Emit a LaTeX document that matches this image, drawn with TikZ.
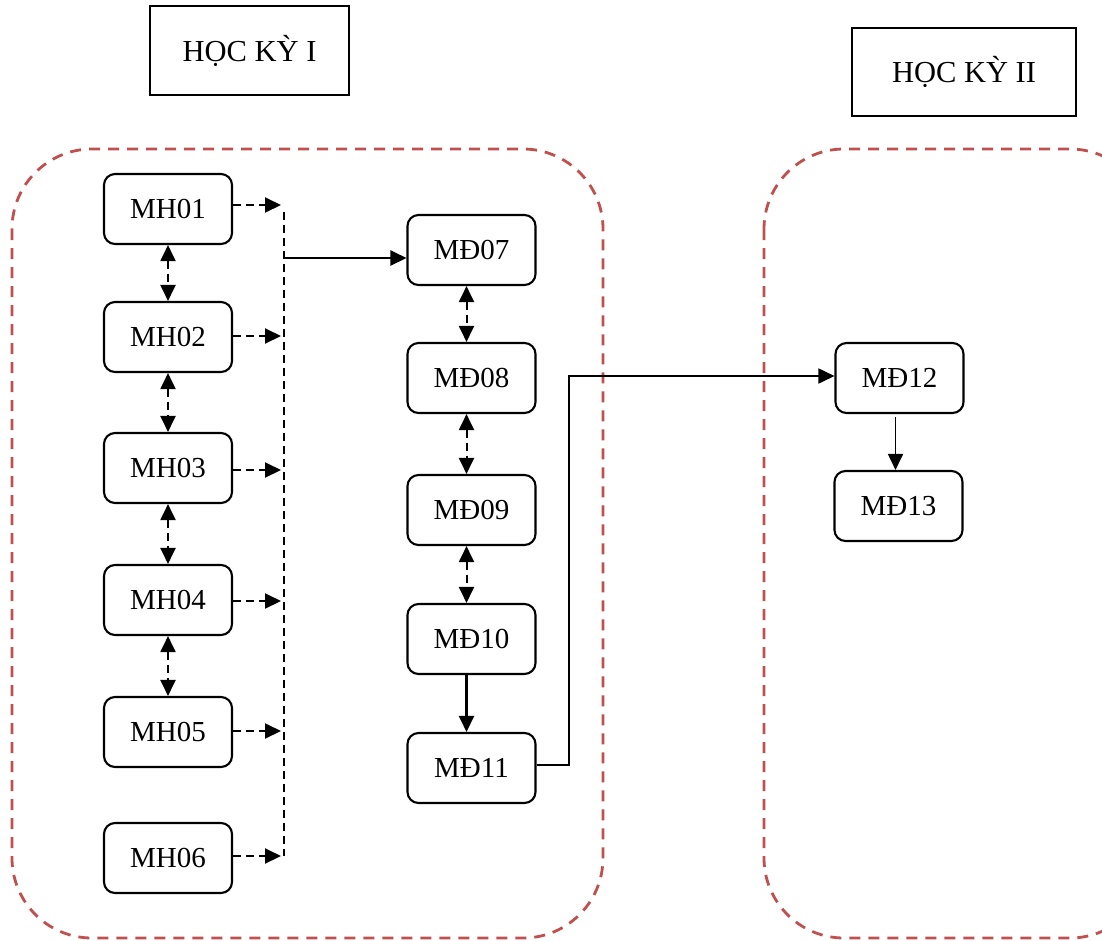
\documentclass[tikz,border=0pt]{standalone}
\usepackage{fontspec}
\setmainfont{Liberation Serif}
\usetikzlibrary{arrows.meta}
\definecolor{regred}{HTML}{C0504D}
\tikzset{
  box/.style={draw, line width=2.1pt, rounded corners=11pt, minimum width=128pt, minimum height=70pt, inner sep=0pt, font=\fontsize{29}{31}\selectfont},
  titlebox/.style={draw, line width=2pt, minimum width=199pt, minimum height=89pt, inner sep=0pt, font=\fontsize{30.5}{32}\selectfont},
  region/.style={draw=regred, line width=2.8pt, dash pattern=on 11pt off 8pt, rounded corners=80pt},
  tip/.style={-{Triangle[length=16pt,width=15pt]}},
  dtip/.style={{Triangle[length=16pt,width=15pt]}-{Triangle[length=16pt,width=15pt]}},
  dline/.style={line width=2pt, dash pattern=on 8pt off 5pt},
  sline/.style={line width=2.3pt},
  thinline/.style={line width=1.8pt},
}
\begin{document}
\begin{tikzpicture}[x=1pt,y=-1pt]
\useasboundingbox (0,0) rectangle (1102,940);
\clip (0,0) rectangle (1102,940);
% regions
\draw[region] (12,149) rectangle (603,938);
\draw[region] (764,149) rectangle (1150,938);
% titles
\node[titlebox] (t1) at (249.5,50.5) {HỌC KỲ I};
\node[titlebox, minimum width=224pt, minimum height=88pt] (t2) at (964,72) {HỌC KỲ II};
% MH nodes
\node[box] (mh1) at (168,209) {MH01};
\node[box] (mh2) at (168,337) {MH02};
\node[box] (mh3) at (168,468) {MH03};
\node[box] (mh4) at (168,600) {MH04};
\node[box] (mh5) at (168,732) {MH05};
\node[box] (mh6) at (168,858) {MH06};
% MD nodes
\node[box] (md7) at (471.5,250) {MĐ07};
\node[box] (md8) at (471.5,378) {MĐ08};
\node[box] (md9) at (471.5,510) {MĐ09};
\node[box] (md10) at (471.5,639) {MĐ10};
\node[box] (md11) at (471.5,768) {MĐ11};
\node[box] (md12) at (899.5,378) {MĐ12};
\node[box] (md13) at (898.5,506) {MĐ13};
% bus coordinates
\coordinate (b1) at (281,205);
\coordinate (b2) at (281,336);
\coordinate (b3) at (281,470);
\coordinate (b4) at (281,601);
\coordinate (b5) at (281,731);
\coordinate (b6) at (281,856);
\coordinate (bustop) at (284,212);
\coordinate (busbot) at (284,856);
\coordinate (busout) at (285,258);
% dashed arrows to bus
\draw[dline,tip] (mh1.east |- b1) -- (b1);
\draw[dline,tip] (mh2.east |- b2) -- (b2);
\draw[dline,tip] (mh3.east |- b3) -- (b3);
\draw[dline,tip] (mh4.east |- b4) -- (b4);
\draw[dline,tip] (mh5.east |- b5) -- (b5);
\draw[dline,tip] (mh6.east |- b6) -- (b6);
\draw[dline] (bustop) -- (busbot);
\draw[sline,tip] (busout) -- (md7.west |- busout);
% MH double arrows
\draw[dline,dtip] (mh1.south) -- (mh2.north);
\draw[dline,dtip] (mh2.south) -- (mh3.north);
\draw[dline,dtip] (mh3.south) -- (mh4.north);
\draw[dline,dtip] (mh4.south) -- (mh5.north);
% MD double arrows
\draw[dline,dtip] ([xshift=-5pt]md7.south) -- ([xshift=-5pt]md8.north);
\draw[dline,dtip] ([xshift=-5pt]md8.south) -- ([xshift=-5pt]md9.north);
\draw[dline,dtip] ([xshift=-5pt]md9.south) -- ([xshift=-5pt]md10.north);
\draw[sline,tip] ([xshift=-5pt]md10.south) -- ([xshift=-5pt]md11.north);
% MD11 -> MD12
\coordinate (c1) at (569,765);
\coordinate (c2) at (569,376);
\draw[thinline,tip] (md11.east |- c1) -- (c1) -- (c2) -- (md12.west |- c2);
\draw[thinline,tip] ([xshift=-4pt,yshift=-3pt]md12.south) -- ([xshift=-3pt]md13.north);
\end{tikzpicture}
\end{document}
